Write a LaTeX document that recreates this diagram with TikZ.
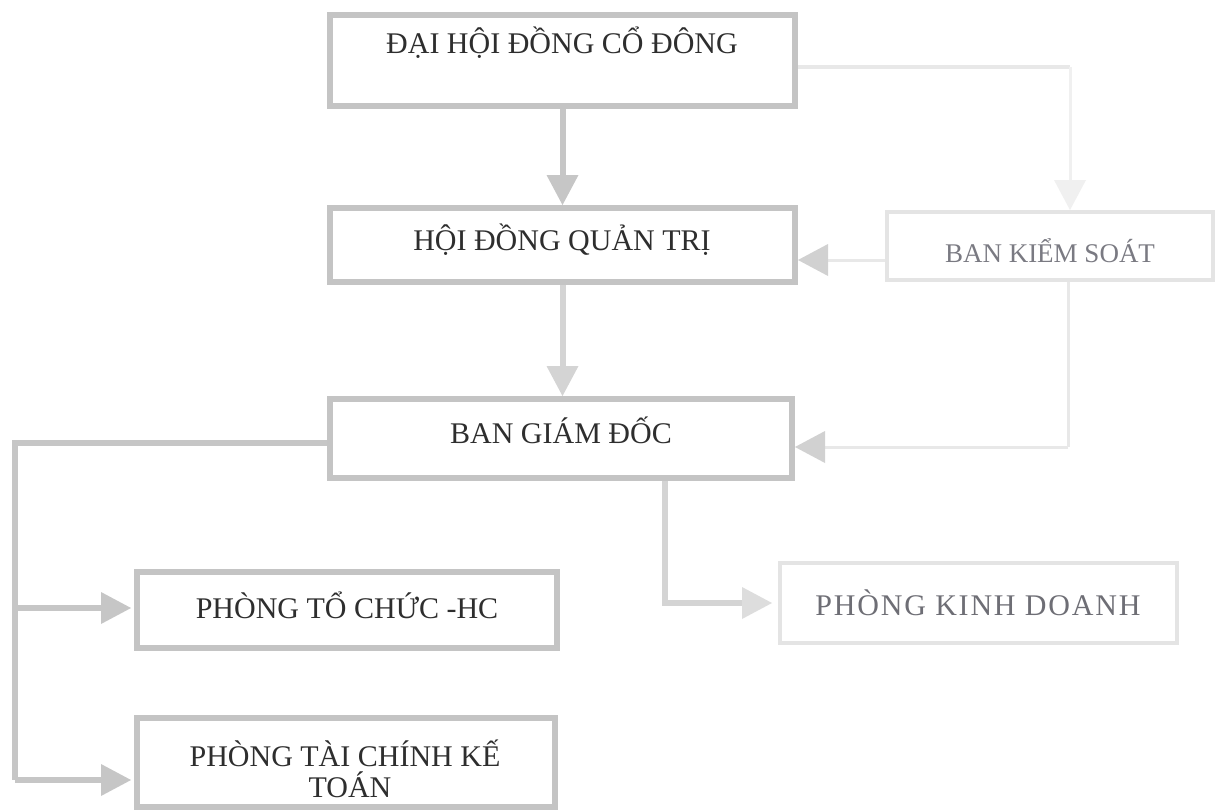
\documentclass[tikz,border=0pt]{standalone}
\usepackage{fontspec}
\setmainfont{Liberation Serif}
\newfontfamily\widefont[LetterSpace=6]{Liberation Serif}
\usetikzlibrary{arrows.meta}
\definecolor{boxc}{HTML}{C4C4C4}
\definecolor{faintbox}{HTML}{E4E4E4}
\definecolor{txt}{HTML}{2E2E2E}
\definecolor{fainttxt}{HTML}{7A7A82}
\definecolor{linec}{HTML}{C6C6C6}
\definecolor{linel}{HTML}{D4D4D4}
\definecolor{linef}{HTML}{E8E8E8}
\definecolor{linevf}{HTML}{F0F0F0}
\begin{document}
\begin{tikzpicture}[x=1pt,y=-1pt,
  box/.style={draw=boxc, line width=6pt, inner sep=0pt, outer sep=3pt},
  fbox/.style={draw=faintbox, line width=4pt, inner sep=0pt, outer sep=2pt},
  lbl/.style={text=txt, inner sep=0pt, anchor=base, font=\fontsize{30}{31}\selectfont},
  flbl/.style={text=fainttxt, inner sep=0pt, anchor=base},
  conn/.style={draw=#1, line width=6pt},
  fconn/.style={draw=#1, line width=3pt},
  head/.style={-{Triangle[width=32pt 0 0, length=30pt 0 0, line width=0pt, color=#1]}}
]
\useasboundingbox[fill=white] (0,0) rectangle (1215,809);

% boxes
\node[box, minimum width=465pt, minimum height=91pt] (b1) at (562.5,60.5) {};
\node[box, minimum width=465pt, minimum height=74pt] (b2) at (562.5,245) {};
\node[box, minimum width=462pt, minimum height=79pt] (b3) at (561,438.5) {};
\node[fbox, minimum width=326pt, minimum height=68pt] (bks) at (1050,246) {};
\node[box, minimum width=420pt, minimum height=76pt] (ptc) at (347,610) {};
\node[box, minimum width=418pt, minimum height=89pt] (ptck) at (346,762.5) {};
\node[fbox, minimum width=397pt, minimum height=80pt] (pkd) at (978.5,603) {};

% texts
\node[lbl] (t1) at (562,53) {ĐẠI HỘI ĐỒNG CỔ ĐÔNG};
\node[lbl] (t2) at (562,250) {HỘI ĐỒNG QUẢN TRỊ};
\node[lbl] (t3) at (561,443) {BAN GIÁM ĐỐC};
\node[flbl, font=\fontsize{27}{29}\selectfont] (t4) at (1050,262) {BAN KIỂM SOÁT};
\node[lbl] (t5) at (347,618) {PHÒNG TỔ CHỨC -HC};
\node[lbl] (t6a) at (345,766) {PHÒNG TÀI CHÍNH KẾ};
\node[lbl] (t6b) at (350,797) {TOÁN};
\node[flbl, font=\widefont\fontsize{30}{31}\selectfont, text=fainttxt!90!black] (t7) at (978,615) {PHÒNG KINH DOANH};

% coordinates
\coordinate (c1) at (1070,67);
\coordinate (c2) at (850,260);
\coordinate (c3) at (1068,447);
\coordinate (c4) at (15,443);
\coordinate (c5) at (15,780);
\coordinate (c6) at (665,603);
\coordinate (c7) at (15,608);

% main vertical arrows
\draw[conn=linec, head=linec] (b1.south) -- (b2.north);
\draw[conn=linel, head=linel] (b2.south) -- (b2.south |- b3.north);

% right side (faint)
\draw[conn=linef, line width=4pt] (b1.east |- c1) -- (c1);
\draw[fconn=linevf, head=linevf] (c1) -- (bks.north -| c1);
\draw[fconn=linef, head=linef!90!black] (bks.west |- c2) -- (b2.east |- c2);
\draw[fconn=linef] (bks.south -| c3) -- (c3);
\draw[fconn=linef, head=linef!90!black] (c3) -- (b3.east |- c3);

% left side
\draw[conn=linec] (b3.west |- c4) -- (c4) -- (c5);
\draw[conn=linec, head=linec, shorten >=3pt] (c7) -- (ptc.west |- c7);
\draw[conn=linec, head=linec, shorten >=3pt] (c5) -- (ptck.west |- c5);

% to PHONG KINH DOANH
\draw[conn=linel, head=linel!80!white, shorten >=6pt] (b3.south -| c6) -- (c6) -- (pkd.west |- c6);
\end{tikzpicture}
\end{document}
